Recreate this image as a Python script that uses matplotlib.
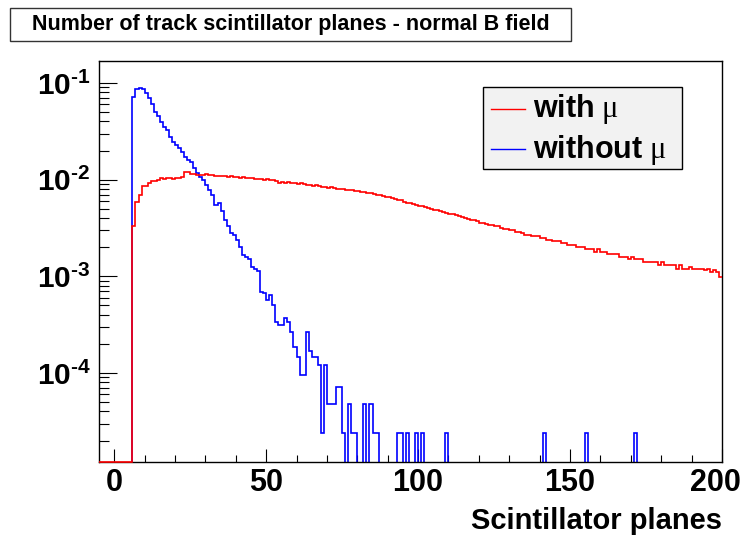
import numpy as np
import matplotlib
matplotlib.use("Agg")
import matplotlib.pyplot as plt
from matplotlib.patches import Rectangle
from matplotlib.lines import Line2D
from matplotlib.transforms import ScaledTranslation
from matplotlib.ticker import FixedLocator, LogLocator, NullFormatter, FixedFormatter

plt.rcParams["font.family"] = ["Liberation Sans", "DejaVu Sans"]
plt.rcParams["mathtext.fontset"] = "custom"
plt.rcParams["mathtext.rm"] = "Liberation Sans"
plt.rcParams["mathtext.bf"] = "Liberation Sans:bold"
plt.rcParams["mathtext.it"] = "Liberation Serif"

# ---------------- data ----------------
title = "Number of track scintillator planes - normal B field"
xlabel = "Scintillator planes"
label_with = r"$\mathbf{with}\ \mu$"
label_without = r"$\mathbf{without}\ \mu$"

x_lo, x_hi = -5, 200          # histogram range, 1 unit bins
first_bin = 6                  # first filled bin (lower edge)

# normalised content, bins 6..199 ("with mu")
red_vals = [
    0.0033, 0.0059, 0.0069, 0.0086, 0.0086, 0.0093, 0.0098, 0.0097, 0.0100, 0.0103,
    0.0101, 0.0103, 0.0104, 0.0102, 0.0104, 0.0103, 0.0107, 0.0121, 0.0120, 0.0114,
    0.0114, 0.0113, 0.0112, 0.0112, 0.0115, 0.0112, 0.0111, 0.0109, 0.0110, 0.0108,
    0.0109, 0.0107, 0.0108, 0.0106, 0.0107, 0.0105, 0.0106, 0.0104, 0.0103, 0.0104,
    0.0102, 0.0101, 0.0102, 0.0100, 0.0101, 0.0100, 0.0099, 0.0097, 0.0093, 0.0094,
    0.0093, 0.0094, 0.0092, 0.0093, 0.0091, 0.0092, 0.0090, 0.0089, 0.0089, 0.0087,
    0.0088, 0.0086, 0.0085, 0.0085, 0.0083, 0.0084, 0.0082, 0.0081, 0.0080, 0.0080,
    0.0079, 0.0078, 0.0078, 0.0076, 0.0077, 0.0075, 0.0074, 0.0073, 0.0072, 0.0071,
    0.0070, 0.0069, 0.0068, 0.0066, 0.0066, 0.0064, 0.0063, 0.0062, 0.0061, 0.0059,
    0.0058, 0.0057, 0.0056, 0.0055, 0.0054, 0.0053, 0.0052, 0.0051, 0.0050, 0.0049,
    0.0049, 0.0047, 0.0046, 0.0045, 0.0044, 0.0044, 0.0043, 0.0042, 0.0041, 0.0040,
    0.0039, 0.0038, 0.0038, 0.0037, 0.0036, 0.0036, 0.0035, 0.0034, 0.0034, 0.0033,
    0.0033, 0.0032, 0.0031, 0.0031, 0.0030, 0.0030, 0.0029, 0.0029, 0.0028, 0.0027,
    0.0027, 0.0026, 0.0026, 0.0026, 0.0025, 0.0025, 0.0024, 0.0024, 0.0023, 0.0023,
    0.0023, 0.0022, 0.0022, 0.0021, 0.0021, 0.0021, 0.0020, 0.0020, 0.0020, 0.0019,
    0.0019, 0.0019, 0.0018, 0.0019, 0.0018, 0.0018, 0.0017, 0.0017, 0.0017, 0.0017,
    0.0016, 0.0016, 0.0016, 0.0015, 0.0016, 0.0015, 0.0015, 0.0015, 0.0014, 0.0014,
    0.0014, 0.0014, 0.0014, 0.0013, 0.0014, 0.0013, 0.0013, 0.0013, 0.0013, 0.0012,
    0.0013, 0.0012, 0.0012, 0.00125, 0.0012, 0.0012, 0.00118, 0.00120, 0.00115, 0.00118,
    0.00112, 0.00115, 0.00110, 0.00098,
]

# normalised content, bins 6..86 ("without mu")
blue_vals = [
    0.0722, 0.086, 0.0895, 0.086, 0.078, 0.0695, 0.060, 0.0506, 0.0455, 0.0398,
    0.0353, 0.0326, 0.0275, 0.0245, 0.0229, 0.0211, 0.0195, 0.0173, 0.0160, 0.0154,
    0.0133, 0.0116, 0.0107, 0.0099, 0.0088, 0.0078, 0.0069, 0.0055, 0.0057, 0.0047,
    0.0038, 0.0033, 0.0028, 0.0027, 0.0024, 0.0020, 0.00166, 0.0016, 0.0015, 0.00126,
    0.00118, 0.00114, 0.00069, 0.00067, 0.00057, 0.00064, 0.000506, 0.00034, 0.000314, 0.000314,
    0.000368, 0.00034, 0.000268, 0.000187, 0.000148, 0.000096, 0.000096, 0.000268, 0.000167, 0.000148,
    0.000148, 0.000121, 0.000024, 0.000121, 0.000048, 0.000048, 0.000048, 0.000072, 0.000072, 0.000024,
    0.0, 0.000048, 0.000024, 0.000024, 0.0, 0.0, 0.000048, 0.0, 0.000048, 0.000024,
    0.000024,
]
# isolated single-entry bins further out ("without mu")
blue_tail_bins = [93, 94, 96, 99, 101, 109, 141, 155, 171]
blue_tail_vals = [0.000024] * 9

ymin, ymax = 1.2e-5, 0.169
x_major = [0, 50, 100, 150, 200]
x_major_labels = ["0", "50", "100", "150", "200"]
y_major = [1e-4, 1e-3, 1e-2, 1e-1]
y_major_labels = [r"$\mathbf{10^{‐4}}$", r"$\mathbf{10^{‐3}}$",
                  r"$\mathbf{10^{‐2}}$", r"$\mathbf{10^{‐1}}$"]

# ---------------- build histograms ----------------
edges = np.arange(x_lo, x_hi + 1)
nb = len(edges) - 1
red = np.zeros(nb)
red[first_bin - x_lo:first_bin - x_lo + len(red_vals)] = red_vals
blue = np.zeros(nb)
blue[first_bin - x_lo:first_bin - x_lo + len(blue_vals)] = blue_vals
for b, v in zip(blue_tail_bins, blue_tail_vals):
    blue[b - x_lo] = v

red_draw = np.where(red > 0, red, ymin)      # empty bins drawn on the floor
blue_draw = np.where(blue > 0, blue, 1e-9)   # empty bins drop out of the frame

# ---------------- figure ----------------
W, H = 746, 535
fig = plt.figure(figsize=(W / 100, H / 100), dpi=100)
fig.patch.set_facecolor("white")

def fx(px):
    return px / W

def fy(py):
    return 1 - py / H

L, R, T, B = 99, 722, 61, 462
ax = fig.add_axes([fx(L), fy(B), fx(R - L), (B - T) / H])
ax.set_yscale("log")
ax.stairs(blue_draw, edges, baseline=None, color="#0000ff", lw=1.2, zorder=3)
ax.stairs(red_draw, edges, baseline=None, color="#ff0000", lw=1.2, zorder=6, clip_on=False)
ax.set_xlim(x_lo, x_hi)
ax.set_ylim(ymin, ymax)

for s in ax.spines.values():
    s.set_linewidth(1.0)
    s.set_zorder(5)

ax.xaxis.set_major_locator(FixedLocator(x_major))
ax.xaxis.set_major_formatter(FixedFormatter(x_major_labels))
ax.xaxis.set_minor_locator(FixedLocator([v for v in range(10, 200, 10) if v % 50]))
ax.yaxis.set_major_locator(FixedLocator(y_major))
ax.yaxis.set_major_formatter(FixedFormatter(y_major_labels))
ax.yaxis.set_minor_locator(LogLocator(base=10, subs=np.arange(2, 10), numticks=30))
ax.yaxis.set_minor_formatter(NullFormatter())
ax.tick_params(axis="x", which="major", direction="in", length=9.5, width=0.8,
               labelsize=22, pad=4.5, top=False)
ax.tick_params(axis="x", which="minor", direction="in", length=5, width=0.8, top=False)
ax.tick_params(axis="y", which="major", direction="in", length=13, width=0.8,
               labelsize=21.5, pad=6, right=False)
ax.tick_params(axis="y", which="minor", direction="in", length=7.5, width=0.8, right=False)
xlabs = ax.get_xticklabels()
for lab in xlabs:
    lab.set_fontweight("bold")
# the last label is kept inside the canvas, as in the original
xlabs[-1].set_transform(xlabs[-1].get_transform()
                        + ScaledTranslation(-7 / 100, 0, fig.dpi_scale_trans))

# x-axis title, right aligned
fig.text(fx(R), fy(529), xlabel, ha="right", va="baseline",
         fontsize=21, fontweight="bold")

# title box
fig.patches.append(Rectangle((fx(10), fy(41)), fx(571 - 10), (41 - 8) / H,
                             transform=fig.transFigure, fc="white", ec="#333333",
                             lw=1.0, zorder=1))
fig.text(fx(290.5), fy(24.5), title, ha="center", va="center",
         fontsize=15.5, fontweight="bold", zorder=2)

# legend box
fig.patches.append(Rectangle((fx(483), fy(169)), fx(682 - 483), (169 - 87) / H,
                             transform=fig.transFigure, fc="#f2f2f2", ec="black",
                             lw=1.0, zorder=7))
for yy, base, col, lab in [(108.5, 117, "#ff0000", label_with),
                           (149, 158, "#0000ff", label_without)]:
    fig.lines.append(Line2D([fx(491), fx(525)], [fy(yy), fy(yy)],
                            transform=fig.transFigure, color=col, lw=1.0, zorder=8))
    fig.text(fx(533), fy(base), lab, ha="left", va="baseline",
             fontsize=22, zorder=8)

fig.savefig("out.png", dpi=100)
